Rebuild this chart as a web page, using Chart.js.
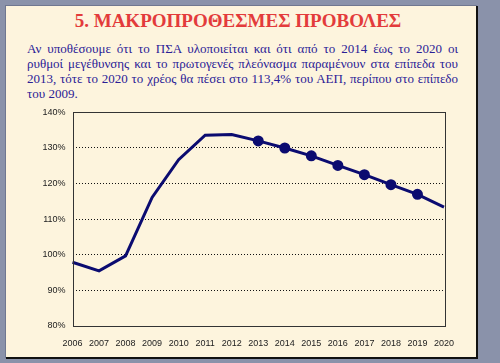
<!DOCTYPE html>
<html>
<head>
<meta charset="utf-8">
<script src="https://cdn.jsdelivr.net/npm/chart.js@4"></script>
<style>
  html, body { margin: 0; padding: 0; }
  body { width: 500px; height: 363px; background: #8a92aa; position: relative; overflow: hidden; }
  #slide {
    position: absolute; left: 6px; top: 6px; width: 470px; height: 351px;
    background: #fdf4dd; border-right: 2px solid #111; border-bottom: 2px solid #111;
    box-shadow: -1px -1px 0 #6f7790;
  }
  #title {
    position: absolute; left: 0; top: 10px; width: 476px; text-align: center;
    font: bold 19px "Liberation Serif", "Times New Roman", serif; color: #e33b3b;
  }
  #txt {
    position: absolute; left: 27px; top: 41px; width: 431px;
    font: 13px/15px "Liberation Serif", "Times New Roman", serif; color: #2a2096;
    text-align: justify; margin: 0;
  }
  #box { position: absolute; left: 0; top: 100px; width: 480px; height: 258px; }
</style>
</head>
<body>
<div id="slide"></div>
<div id="title">5. ΜΑΚΡΟΠΡΟΘΕΣΜΕΣ ΠΡΟΒΟΛΕΣ</div>
<p id="txt">Αν υποθέσουμε ότι το ΠΣΑ υλοποιείται και ότι από το 2014 έως το 2020 οι ρυθμοί μεγέθυνσης και το πρωτογενές πλεόνασμα παραμένουν στα επίπεδα του 2013, τότε το 2020 το χρέος θα πέσει στο 113,4% του ΑΕΠ, περίπου στο επίπεδο του 2009.</p>
<div id="box"><canvas id="debtChart"></canvas></div>
<script>
/* --------------- Data --------------------- */
const years = ["2006", "2007", "2008", "2009", "2010", "2011", "2012", "2013",
  "2014", "2015", "2016", "2017", "2018", "2019", "2020"];
const debt = [97.9, 95.5, 99.7, 116.1, 126.7, 133.6, 133.8, 132.0,
  130.0, 127.8, 125.1, 122.5, 119.7, 117.0, 113.4];
// projection years get a round marker
const markerSize = [0, 0, 0, 0, 0, 0, 0, 4, 4, 4, 4, 4, 4, 4, 0];

const navy = "#0b0b70";

/* --------------- Plot frame --------------------- */
const frame = {
  id: "frame",
  afterDraw(chart) {
    const a = chart.chartArea, ctx = chart.ctx;
    ctx.save();
    ctx.strokeStyle = "#333";
    ctx.lineWidth = 1;
    ctx.strokeRect(Math.round(a.left) + 0.5, Math.round(a.top) + 0.5,
      Math.round(a.right - a.left), Math.round(a.bottom - a.top));
    ctx.restore();
  },
};

/* --------------- Chart --------------------- */
new Chart(document.getElementById("debtChart"), {
  type: "line",
  plugins: [frame],
  data: {
    labels: years,
    datasets: [{
      data: debt,
      borderColor: navy,
      backgroundColor: navy,
      borderWidth: 3,
      pointRadius: markerSize,
      pointHoverRadius: markerSize,
      tension: 0,
      clip: false,
    }],
  },
  options: {
    responsive: true,
    maintainAspectRatio: false,
    animation: false,
    layout: { padding: { top: 12, right: 36, left: 0, bottom: 0 } },
    plugins: { legend: { display: false }, tooltip: false },
    scales: {
      x: {
        offset: false,
        grid: { display: false, drawTicks: false },
        border: { display: false },
        ticks: { color: "#222", font: { family: "Liberation Sans", size: 9 }, padding: 12, maxRotation: 0, autoSkip: false },
        afterFit: (s) => { s.height = 32; },
      },
      y: {
        min: 80,
        max: 140,
        grid: {
          drawTicks: false,
          color: (c) => (c.tick.value === 80 || c.tick.value === 140 ? "rgba(0,0,0,0)" : "#111"),
          lineWidth: 1,
        },
        border: { display: false, dash: [1, 2] },
        ticks: {
          stepSize: 10,
          color: "#222",
          font: { family: "Liberation Sans", size: 9 },
          padding: 7,
          callback: (v) => v + "%",
        },
        afterFit: (s) => { s.width = 72.5; },
      },
    },
  },
});
</script>
</body>
</html>
